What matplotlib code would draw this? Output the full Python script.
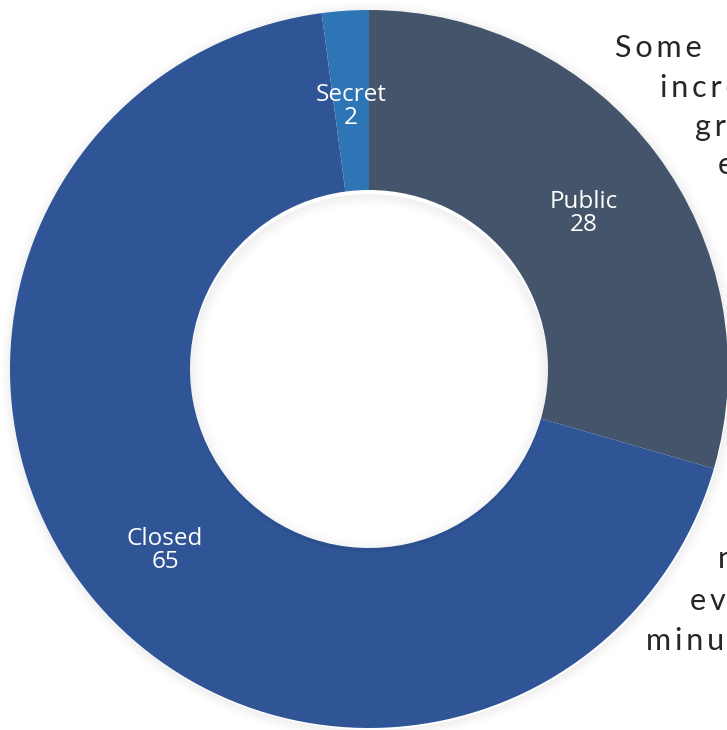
"""Donut chart of group privacy types, cropped like the reference slide."""

import matplotlib

matplotlib.use("Agg")
import matplotlib.pyplot as plt
import numpy as np
from matplotlib.patches import Wedge

# data
categories = ["Public", "Closed", "Secret"]
counts = [28, 65, 2]
colors = ["#44546A", "#2F5597", "#2E75B6"]

# slide text that runs off the right edge
side_text_top = ["Some", "incre", "gr", "e"]
side_text_bottom = ["n", "ev", "minu"]

W, H = 727, 730
fig = plt.figure(figsize=(W / 100, H / 100), dpi=100)
ax = fig.add_axes([0, 0, 1, 1])

cx, cy = 369, H - 369
radius = 359
ring = 180

# soft drop shadow round the outside and inside the hole
for i in range(12):
    ax.add_patch(
        Wedge((cx + 1, cy - 2), radius + 1 + i, 0, 360, width=1.2,
              color="black", alpha=0.05 * (1 - i / 12) ** 1.5, lw=0, zorder=1)
    )
for i in range(14):
    ax.add_patch(
        Wedge((cx, cy - 4), radius - ring - i, 0, 360, width=1.2,
              color="black", alpha=0.05 * (1 - i / 14) ** 1.5, lw=0, zorder=3)
    )

wedges, _ = ax.pie(
    counts,
    colors=colors,
    startangle=90,
    counterclock=False,
    radius=radius,
    center=(cx, cy),
    wedgeprops=dict(width=ring, linewidth=0),
    frame=True,
)
for w in wedges:
    w.set_zorder(2)
ax.set_xlim(0, W)
ax.set_ylim(0, H)
ax.set_aspect("equal")
ax.axis("off")

# labels in the middle of each ring segment
for w, name, val in zip(wedges, categories, counts):
    mid = np.deg2rad((w.theta1 + w.theta2) / 2)
    r = radius - ring / 2
    ax.text(cx + r * np.cos(mid), cy + r * np.sin(mid) - 6, f"{name}\n{val}",
            ha="center", va="center", color="white", fontsize=17.5,
            family="Open Sans", linespacing=0.95, zorder=5)

# cut-off slide text on the right (letter-spaced with thin spaces)
positions = [(615, 57), (660, 97), (695, 136), (718, 174),
             (718, 568), (690, 610), (646, 650)]
for txt, (x, y) in zip(side_text_top + side_text_bottom, positions):
    ax.text(x, H - y, "\u2009".join(txt), ha="left", va="baseline",
            fontsize=22, family=["Lato", "DejaVu Sans"], color="#262626",
            zorder=6)

fig.savefig("out.png", dpi=100, facecolor="white")
